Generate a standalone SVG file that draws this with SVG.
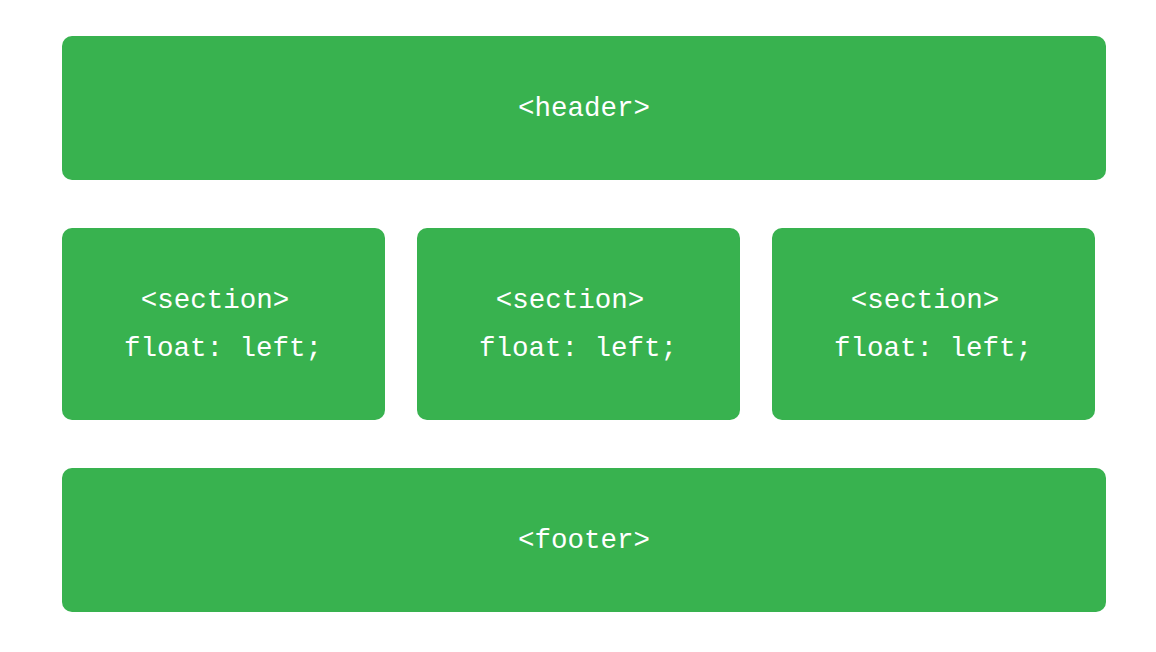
<svg xmlns="http://www.w3.org/2000/svg" width="1156" height="652" viewBox="0 0 1156 652">
<style>
.box{fill:#38b24f}
.t{font-family:"Liberation Mono","Courier New",monospace;font-size:27.5px;fill:#ffffff;text-anchor:middle}
</style>
<rect width="1156" height="652" fill="#ffffff"/>
<g id="header"><rect class="box" x="62" y="36" width="1044" height="144" rx="10"/><text class="t" x="584" y="116">&lt;header&gt;</text></g>
<g id="section1"><rect class="box" x="62" y="228" width="323" height="192" rx="10"/><text class="t" x="215" y="308">&lt;section&gt;</text><text class="t" x="223" y="356">float: left;</text></g>
<g id="section2"><rect class="box" x="417" y="228" width="323" height="192" rx="10"/><text class="t" x="570" y="308">&lt;section&gt;</text><text class="t" x="578" y="356">float: left;</text></g>
<g id="section3"><rect class="box" x="772" y="228" width="323" height="192" rx="10"/><text class="t" x="925" y="308">&lt;section&gt;</text><text class="t" x="933" y="356">float: left;</text></g>
<g id="footer"><rect class="box" x="62" y="468" width="1044" height="144" rx="10"/><text class="t" x="584" y="548">&lt;footer&gt;</text></g>
<g id="connectors"></g>
</svg>
